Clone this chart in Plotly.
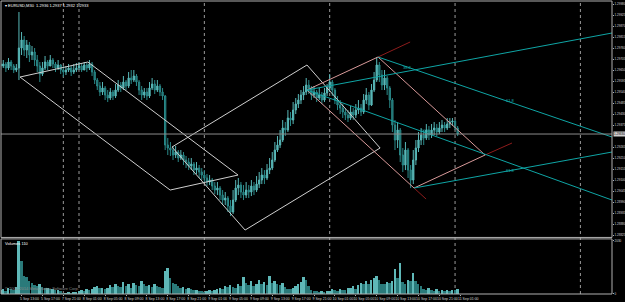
import plotly.graph_objects as go

# ---------------- data (EURUSD, M30, 5-11 Sep 2014) ----------------
first_open = 1.2968
closes = [1.2967, 1.2968, 1.2966, 1.2969, 1.2967, 1.2965, 1.2966, 1.2976, 1.2980, 1.2975, 1.29775, 1.29725,
          1.2974, 1.2970, 1.2967, 1.2963, 1.2966, 1.2969, 1.2967, 1.2970, 1.2968, 1.2966, 1.29675, 1.2965,
          1.2964, 1.2965, 1.2966, 1.2964, 1.2965, 1.2966,
          1.2967, 1.2965, 1.29675, 1.2966, 1.2968, 1.2964, 1.2960, 1.2957, 1.2954, 1.2956, 1.29525, 1.2951,
          1.2954, 1.2952, 1.2955, 1.29575, 1.2956, 1.2959, 1.2957, 1.2961, 1.2960, 1.2962, 1.2959, 1.2955,
          1.29525, 1.2954, 1.2952, 1.2956, 1.2958, 1.2955, 1.2957, 1.2954, 1.2952,
          1.29275, 1.2926, 1.2925, 1.29225, 1.2924, 1.2921, 1.29225, 1.2920, 1.2919, 1.2917, 1.2918, 1.2915,
          1.2916, 1.2914, 1.29125,
          1.2911, 1.2909, 1.2910, 1.2907, 1.2905, 1.2906, 1.29025, 1.2900, 1.2901, 1.2897, 1.2894, 1.2900,
          1.2906, 1.29075, 1.2904, 1.29025, 1.2905, 1.2904, 1.2907, 1.2905, 1.2908, 1.2910, 1.29125, 1.2911,
          1.2915, 1.2916, 1.2920, 1.2925, 1.29275, 1.2930, 1.2936, 1.2935, 1.2941, 1.2940, 1.2945, 1.2948,
          1.2950, 1.29525, 1.2954, 1.29575, 1.2956, 1.29525, 1.2954, 1.2951, 1.29525, 1.2950, 1.29535, 1.2956,
          1.2959, 1.2955, 1.2950, 1.29475, 1.2946, 1.2944, 1.29425, 1.2941, 1.2944, 1.29425, 1.2945, 1.2946,
          1.2944, 1.2950, 1.29525, 1.29475, 1.2955, 1.2960, 1.29675, 1.29625, 1.29575, 1.2961, 1.2956, 1.2950,
          1.29375, 1.2930, 1.2935, 1.29225, 1.29175, 1.2925, 1.2915, 1.2910, 1.2920, 1.2926, 1.2930, 1.29325,
          1.2931, 1.2935, 1.29325, 1.2935, 1.2936, 1.2934, 1.2936, 1.29375, 1.2936, 1.2938, 1.2939, 1.29395,
          1.2936, 1.2933]
highs = [1.2970, 1.2970, 1.2969, 1.2971, 1.2970, 1.2968, 1.2968, 1.2994, 1.2984, 1.2982, 1.2980, 1.2979,
         1.2977, 1.2976, 1.29725, 1.2969, 1.2969, 1.2972, 1.2970, 1.29725, 1.2971, 1.2969, 1.2970, 1.2968,
         1.2967, 1.2967, 1.2968, 1.2967, 1.2968, 1.29685,
         1.2969, 1.2968, 1.2969, 1.29685, 1.2970, 1.2969, 1.2965, 1.2961, 1.2959, 1.2959, 1.2957, 1.2955,
         1.2956, 1.2955, 1.2958, 1.2960, 1.2959, 1.2962, 1.2960, 1.2964, 1.2965, 1.2965, 1.2963, 1.2960,
         1.2957, 1.2956, 1.2956, 1.2959, 1.2961, 1.2960, 1.2960, 1.2958, 1.2956,
         1.29525, 1.2931, 1.2929, 1.2927, 1.2927, 1.2925, 1.2925, 1.2924, 1.2922, 1.2921, 1.2921, 1.2919,
         1.2919, 1.29175, 1.2916,
         1.2915, 1.2913, 1.29125, 1.2911, 1.2909, 1.2909, 1.2907, 1.2905, 1.2904, 1.2902, 1.2900, 1.2905,
         1.2910, 1.2911, 1.2909, 1.29075, 1.2909, 1.29075, 1.2910, 1.2909, 1.2912, 1.2914, 1.2916, 1.2915,
         1.2918, 1.2921, 1.2924, 1.2929, 1.2932, 1.2935, 1.2940, 1.2939, 1.2945, 1.2944, 1.2949, 1.2951,
         1.2953, 1.2955, 1.2957, 1.2961, 1.2960, 1.2957, 1.2957, 1.2955, 1.2956, 1.2954, 1.2956, 1.2958,
         1.2963, 1.2960, 1.2956, 1.2952, 1.2950, 1.2948, 1.2946, 1.2945, 1.2947, 1.2946, 1.2948, 1.2950,
         1.2948, 1.2953, 1.2956, 1.2954, 1.2958, 1.2964, 1.29715, 1.2969, 1.2965, 1.2965, 1.2962, 1.2957,
         1.2951, 1.2940, 1.2939, 1.2936, 1.2926, 1.2929, 1.2926, 1.29175, 1.2925, 1.2930, 1.2934, 1.2936,
         1.2935, 1.2938, 1.2937, 1.2938, 1.2939, 1.2938, 1.2939, 1.2940, 1.2939, 1.2941, 1.2941, 1.2941,
         1.2940, 1.2937]
lows = [1.2965, 1.2966, 1.2964, 1.2965, 1.2965, 1.29635, 1.2964, 1.2960, 1.29725, 1.2972, 1.2971, 1.2969,
        1.2970, 1.2967, 1.2964, 1.2959, 1.2962, 1.2965, 1.2965, 1.2967, 1.2966, 1.2964, 1.2965, 1.2963,
        1.29615, 1.29625, 1.2964, 1.2962, 1.2963, 1.2964,
        1.2965, 1.2964, 1.2965, 1.2964, 1.2965, 1.2962, 1.2958, 1.2955, 1.2952, 1.29525, 1.2950, 1.2949,
        1.2950, 1.2950, 1.2951, 1.2954, 1.2954, 1.2955, 1.2955, 1.2956, 1.2958, 1.2959, 1.2957, 1.29525,
        1.2950, 1.2951, 1.2950, 1.2951, 1.2955, 1.2953, 1.2954, 1.2952, 1.2950,
        1.2925, 1.29225, 1.2922, 1.2920, 1.2921, 1.2919, 1.2920, 1.29175, 1.2916, 1.2915, 1.2915, 1.29125,
        1.2913, 1.2911, 1.2910,
        1.2909, 1.2907, 1.29075, 1.2905, 1.2903, 1.29025, 1.2900, 1.28975, 1.28975, 1.2894, 1.2892, 1.2893,
        1.2899, 1.29025, 1.2901, 1.2900, 1.2901, 1.2901, 1.2902, 1.29025, 1.2904, 1.2906, 1.2908, 1.2908,
        1.2910, 1.2913, 1.2915, 1.2919, 1.2924, 1.2926, 1.2929, 1.2932, 1.2934, 1.2937, 1.2938, 1.2943,
        1.2946, 1.2948, 1.2950, 1.29525, 1.2953, 1.2950, 1.2951, 1.2949, 1.2950, 1.2948, 1.2949, 1.2952,
        1.2954, 1.2952, 1.2948, 1.2945, 1.2943, 1.2941, 1.2940, 1.2939, 1.2940, 1.2940, 1.2941, 1.2943,
        1.2942, 1.2943, 1.2948, 1.2945, 1.2947, 1.2954, 1.2959, 1.2959, 1.2955, 1.2955, 1.29525, 1.2946,
        1.2934, 1.2925, 1.2926, 1.2919, 1.2914, 1.2915, 1.2911, 1.2906, 1.2908, 1.29175, 1.2924, 1.29275,
        1.29275, 1.2930, 1.2930, 1.2931, 1.29325, 1.2932, 1.2933, 1.2934, 1.2934, 1.2935, 1.2936, 1.2937,
        1.2935, 1.2932]
volumes = [150, 185, 110, 220, 185, 150, 260, 2030, 1250, 700, 640, 480, 420, 350, 300, 380, 260, 220, 240,
           180, 200, 150, 170, 120,
           40, 60, 70, 50, 80, 90,
           110, 140, 120, 200, 150, 180, 260, 300, 220, 250, 190, 230, 350, 280, 400, 320, 260, 450, 300, 380,
           250, 420, 330, 290, 480, 380, 300, 350, 260, 400, 310, 280, 240,
           880, 1000, 600, 420, 380, 300, 250, 280, 200, 220, 180, 150, 170, 130, 110,
           90, 120, 150, 110, 140, 200, 250, 180, 300, 260, 340, 280, 240, 380, 300, 660, 420, 350, 480, 300,
           400, 520, 380, 450, 350, 700, 420, 500, 380, 330, 420, 260, 200, 180, 220, 300, 380, 450, 640, 550,
           300, 150, 120, 100, 90, 110, 80, 100,
           130, 180, 150, 120, 200, 160, 140, 220, 250, 300, 180, 350, 420, 380, 480, 400, 550, 600, 700, 520,
           400, 380, 450, 420, 500, 960, 600, 1180, 450, 400, 550, 480, 800, 480, 380, 300, 200, 160, 220, 150,
           130, 180, 120, 140, 110, 160, 130, 170, 140, 200, 110]

tick_bars = [0, 8, 16, 24, 32, 40, 48, 56, 64, 72, 80, 88, 96, 104, 112, 120, 128, 136, 144, 152, 160, 168, 176]
tick_labels = ["5 Sep 2014", "5 Sep 13:00", "5 Sep 17:00", "7 Sep 21:00", "8 Sep 01:00", "8 Sep 05:00",
               "8 Sep 09:00", "8 Sep 13:00", "8 Sep 17:00", "8 Sep 21:00", "9 Sep 01:00", "9 Sep 05:00",
               "9 Sep 09:00", "9 Sep 13:00", "9 Sep 17:00", "9 Sep 21:00", "10 Sep 01:00", "10 Sep 05:00",
               "10 Sep 09:00", "10 Sep 13:00", "10 Sep 17:00", "10 Sep 21:00", "11 Sep 01:00"]
# price scale labels (the 1.29320 level is hidden behind the current-price marker)
price_ticks = [1.29980, 1.29925, 1.29870, 1.29815, 1.29760, 1.29705, 1.29650, 1.29595, 1.29540, 1.29485,
               1.29430, 1.29375, 1.29265, 1.29210, 1.29155, 1.29100, 1.29045, 1.28990, 1.28935,
               1.28880, 1.28825]
day_separators = [24, 30, 78, 126, 174, 222]

# drawn objects (bar index, price)
chan1_bars = [7.4, 33.4, 90.9, 64.9]
chan1_prices = [1.29615, 1.29690, 1.29125, 1.29050]
chan2_bars = [65.6, 117.3, 145.3, 93.6]
chan2_prices = [1.29265, 1.29675, 1.29260, 1.28850]
chan3_bars = [117.3, 144.5, 185.5, 158.3]
chan3_prices = [1.29550, 1.29715, 1.29225, 1.29060]
ext_bars = [(144.5, 156.8), (185.5, 195.8), (158.3, 162.9)]
ext_prices = [(1.29715, 1.29790), (1.29225, 1.29285), (1.29060, 1.29005)]
fib_bars = [(117.3, 234.1), (117.3, 234.1), (144.5, 234.1), (158.3, 234.1)]
fib_prices = [(1.29550, 1.29835), (1.29550, 1.29000), (1.29715, 1.29315), (1.29060, 1.29240)]
fib_label_bars = [155.6, 195.1, 162.5, 195.1]
fib_label_prices = [1.29665, 1.29500, 1.29350, 1.29150]
fib_label_text = ["38.2", "61.8", "50.0", "61.8"]

# ---------------- figure ----------------
bars = list(range(len(closes)))
opens = [first_open] + closes[:-1]
X_RANGE = [0.13, 234.1]
MAIN_DOM = [0.193, 1.0]
VOL_DOM = [0.0, 0.188]
GRID = "#b0b0b0"
TXT = "#d8d8d8"
FONT = "Liberation Sans"

fig = go.Figure()
fig.add_trace(go.Candlestick(
    x=bars, open=opens, high=highs, low=lows, close=closes, xaxis="x", yaxis="y",
    increasing=dict(line=dict(color="#58b8b8", width=1), fillcolor="#58b8b8"),
    decreasing=dict(line=dict(color="#2a8a8a", width=1), fillcolor="#1c6464"),
    whiskerwidth=0, hoverinfo="skip", showlegend=False))

vcol = ["#5fb8b8" if i == 0 or volumes[i] > volumes[i - 1] else "#2a7a7a" for i in range(len(volumes))]
fig.add_trace(go.Bar(x=bars, y=volumes, marker=dict(color=vcol, line=dict(width=0)), width=0.75,
                     xaxis="x", yaxis="y2", hoverinfo="skip", showlegend=False))

def line(xs, ys, color, width=1, dash="solid"):
    fig.add_trace(go.Scatter(x=xs, y=ys, mode="lines", line=dict(color=color, width=width, dash=dash),
                             xaxis="x", yaxis="y", hoverinfo="skip", showlegend=False))

for bx, py in [(chan1_bars, chan1_prices), (chan2_bars, chan2_prices)]:
    line(bx + bx[:1], py + py[:1], "#cfcfcf")
line(chan3_bars + chan3_bars[:1], chan3_prices + chan3_prices[:1], "#d99a9a")
for bx, py in zip(ext_bars, ext_prices):
    line(list(bx), list(py), "#8e1c1c")
for bx, py in zip(fib_bars, fib_prices):
    line(list(bx), list(py), "#0fa5a5")

# current price line
line([X_RANGE[0], X_RANGE[1]], [closes[-1], closes[-1]], "#8c8c8c")

shapes = []
for d in day_separators:
    shapes.append(dict(type="line", xref="x", yref="paper", x0=d, x1=d, y0=0, y1=1,
                       line=dict(color="#9a9a9a", width=1, dash="dot"), layer="below"))
for dom in (MAIN_DOM, VOL_DOM):
    shapes.append(dict(type="rect", xref="paper", yref="paper", x0=0, x1=1, y0=dom[0], y1=dom[1],
                       line=dict(color=GRID, width=1), layer="above"))

annotations = [
    dict(xref="paper", yref="paper", x=0.004, y=1.0, xanchor="left", yanchor="top", showarrow=False,
         text="▾ EURUSD,M30  %.4f %.4f %.4f %.4f" % (opens[-1], highs[-1], lows[-1], closes[-1]),
         font=dict(size=4, color="#ffffff", family=FONT)),
    dict(xref="paper", yref="paper", x=0.004, y=VOL_DOM[1], xanchor="left", yanchor="top", showarrow=False,
         text="Volumes %d" % volumes[-1], font=dict(size=4, color="#ffffff", family=FONT)),
    dict(xref="paper", yref="paper", x=0.004, y=0.004, xanchor="left", yanchor="bottom", showarrow=False,
         text="© 2001-2014 MetaQuotes Software Corp.", font=dict(size=4, color="#8a8a8a", family=FONT)),
    dict(xref="paper", yref="y", x=1.0, y=closes[-1], xanchor="left", yanchor="middle", showarrow=False,
         text="%.5f" % closes[-1], bgcolor="#d0d0d0", borderpad=0, xshift=1,
         font=dict(size=3, color="#000000", family=FONT)),
]
for bx, py, t in zip(fib_label_bars, fib_label_prices, fib_label_text):
    annotations.append(dict(xref="x", yref="y", x=bx, y=py, text=t, showarrow=False,
                            font=dict(size=4, color="#18b5b5", family=FONT)))

fig.update_layout(
    width=625, height=302, margin=dict(l=1, r=13, t=1, b=8),
    paper_bgcolor="#000000", plot_bgcolor="#000000",
    showlegend=False, hovermode=False, bargap=0,
    shapes=shapes, annotations=annotations,
    xaxis=dict(range=X_RANGE, domain=[0, 1], anchor="y2", tickvals=tick_bars, ticktext=tick_labels,
               tickfont=dict(size=3.5, color=TXT, family=FONT), tickangle=0, showgrid=False, zeroline=False,
               showline=False, ticks="outside", ticklen=1, tickcolor=GRID, automargin=False,
               ticklabelshift=8, ticklabelstandoff=0, rangeslider=dict(visible=False), fixedrange=True),
    yaxis=dict(domain=MAIN_DOM, range=[1.28813, 1.29995], side="right", anchor="x",
               tickvals=price_ticks, ticktext=["%.5f" % p for p in price_ticks],
               tickfont=dict(size=3, color=TXT, family=FONT), showgrid=False, zeroline=False,
               showline=False, ticks="outside", ticklen=1, tickcolor=GRID, automargin=False,
               ticklabelstandoff=0),
    yaxis2=dict(domain=VOL_DOM, range=[0, 2099], side="right", anchor="x",
                tickvals=[0, max(volumes)], ticktext=["0", str(max(volumes))],
                tickfont=dict(size=3, color=TXT, family=FONT), showgrid=False, zeroline=False,
                showline=False, ticks="outside", ticklen=1, tickcolor=GRID, automargin=False,
                ticklabelstandoff=0),
)

fig.write_html("out.html", config=dict(displayModeBar=False))
